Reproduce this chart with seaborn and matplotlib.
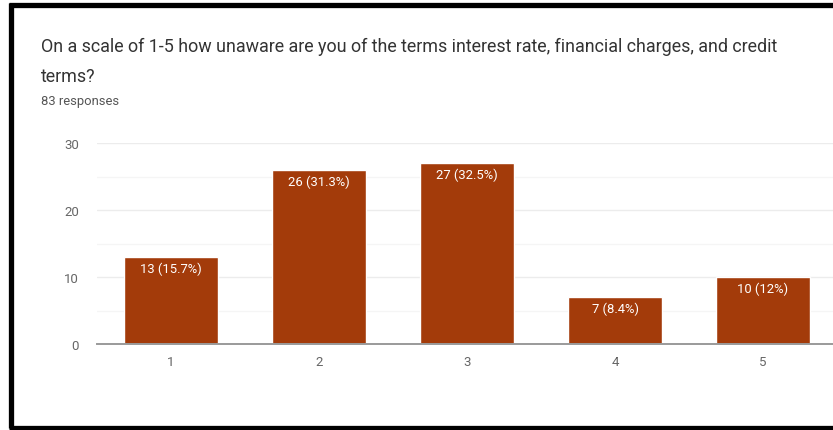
import matplotlib
matplotlib.use("Agg")
import matplotlib.pyplot as plt
from matplotlib.lines import Line2D
from matplotlib.ticker import MultipleLocator
import seaborn as sns
import pandas as pd

# Survey results
ratings = ["1", "2", "3", "4", "5"]
counts = [13, 26, 27, 7, 10]
percent_labels = ["15.7%", "31.3%", "32.5%", "8.4%", "12%"]
y_ticks = [0, 10, 20, 30]

title_line1 = "On a scale of 1-5 how unaware are you of the terms interest rate, financial charges, and credit"
title_line2 = "terms?"
subtitle = "83 responses"

bar_color = "#a33b0a"

sns.set_theme(style="white")
plt.rcParams["font.family"] = ["Roboto", "DejaVu Sans"]

df = pd.DataFrame({"rating": ratings, "count": counts})

W, H = 833, 431
fig = plt.figure(figsize=(W / 100, H / 100), dpi=100)
fig.patch.set_facecolor("white")

# Plot area: x from 97px to 837px (runs off the right edge), y from 144px (30) to 345px (0)
ax = fig.add_axes([97 / W, 1 - 345 / H, 740 / W, (345 - 144) / H])

sns.barplot(data=df, x="rating", y="count", color=bar_color, width=0.63,
            saturation=1, ax=ax, zorder=3)

ax.set_ylim(0, 30)
ax.set_xlim(-0.5, len(ratings) - 0.5)
ax.set_yticks(y_ticks)
ax.yaxis.set_minor_locator(MultipleLocator(5))
ax.grid(axis="y", which="major", color="#ececec", linewidth=1, zorder=0)
ax.grid(axis="y", which="minor", color="#f5f5f5", linewidth=1, zorder=0)
ax.set_axisbelow(True)

for side in ["top", "right", "left"]:
    ax.spines[side].set_visible(False)
ax.spines["bottom"].set_color("#9a9a9a")
ax.spines["bottom"].set_linewidth(1.4)
ax.spines["bottom"].set_zorder(4)

ax.set_xlabel("")
ax.set_ylabel("")
ax.tick_params(axis="both", which="both", length=0, labelsize=9.5, colors="#666666")
ax.tick_params(axis="y", pad=13)
ax.tick_params(axis="x", pad=8)

# Value labels inside the top of each bar
for container in ax.containers:
    labels = [f"{int(v)} ({p})" for v, p in zip(counts, percent_labels)]
    ax.bar_label(container, labels=labels, label_type="edge", padding=-13,
                 color="white", fontsize=9.4)

# Title block
fig.text(41 / W, 1 - 47 / H, title_line1, ha="left", va="center",
         fontsize=12.85, color="#333333")
fig.text(41 / W, 1 - 77 / H, title_line2, ha="left", va="center",
         fontsize=12.85, color="#333333")
fig.text(41 / W, 1 - 101 / H, subtitle, ha="left", va="center",
         fontsize=9.4, color="#555555")

# Frame around the card (left, top, bottom)
frame_kw = dict(color="black", linewidth=3.8, transform=fig.transFigure,
                solid_capstyle="butt")
fig.add_artist(Line2D([11 / W, 11 / W], [1 - 4 / H, 1 - 429 / H], **frame_kw))
fig.add_artist(Line2D([9 / W, 1.0], [1 - 6 / H, 1 - 6 / H], **frame_kw))
fig.add_artist(Line2D([9 / W, 1.0], [1 - 428.5 / H, 1 - 428.5 / H], **frame_kw))

fig.savefig("out.png", dpi=100)
